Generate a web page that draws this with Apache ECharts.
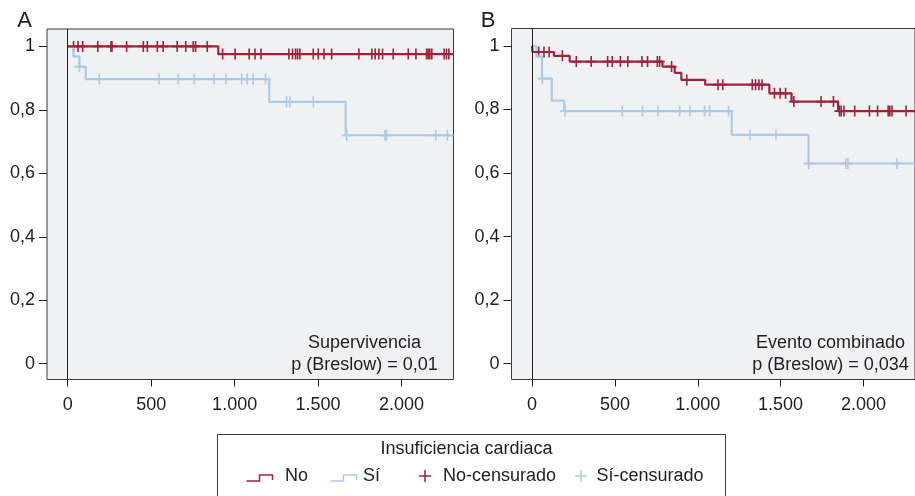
<!DOCTYPE html>
<html><head><meta charset="utf-8">
<script src="https://cdn.jsdelivr.net/npm/echarts@6/dist/echarts.min.js"></script>
<style>html,body{margin:0;padding:0;background:#fff}#c{width:915px;height:496px}</style>
</head><body><div id="c"></div>
<script>
// ---- data ----
const xTicks = [0, 500, 1000, 1500, 2000];
const yTicks = [0, 0.2, 0.4, 0.6, 0.8, 1];
const XMIN = -124, XMAX = 2311;

// Panel A: Supervivencia
const aNoTimes = [0, 902];
const aNoSurv = [1, 0.976];
const aNoCens = [35, 62, 90, 180, 259, 265, 353, 453, 477, 537, 572, 656, 707, 752, 766, 836, 928, 1003, 1087, 1122, 1158, 1325, 1347, 1365, 1377, 1391, 1471, 1501, 1535, 1581, 1744, 1822, 1842, 1864, 1886, 1950, 2040, 2086, 2150, 2159, 2169, 2181, 2255, 2269, 2283];
const aSiTimes = [0, 34, 70, 108, 1207, 1665];
const aSiSurv = [1, 0.969, 0.936, 0.897, 0.825, 0.720];
const aSiCens = [70, 189, 547, 662, 758, 876, 948, 1042, 1075, 1111, 1185, 1311, 1331, 1471, 1671, 1900, 1910, 2205, 2275];

// Panel B: Evento combinado
const bNoTimes = [0, 3, 132, 227, 787, 861, 901, 1045, 1432, 1566, 1847];
const bNoSurv = [1, 0.981, 0.969, 0.951, 0.935, 0.915, 0.893, 0.878, 0.851, 0.825, 0.795];
const bNoCens = [40, 72, 103, 183, 267, 357, 456, 484, 533, 578, 663, 697, 756, 770, 842, 934, 1122, 1151, 1329, 1349, 1369, 1388, 1463, 1497, 1530, 1580, 1744, 1819, 1855, 1865, 1882, 1947, 2036, 2085, 2149, 2159, 2172, 2257];
const bSiTimes = [0, 26, 60, 119, 194, 1205, 1669];
const bSiSurv = [1, 0.967, 0.897, 0.828, 0.795, 0.720, 0.630];
const bSiCens = [62, 199, 545, 667, 760, 891, 954, 1041, 1072, 1186, 1315, 1472, 1669, 1894, 1906, 2202];

const groupLabels = ['No', 'Sí', 'No-censurado', 'Sí-censurado'];
const legendTitle = 'Insuficiencia cardiaca';
const panelA = ['A', 'Supervivencia', 'p (Breslow) = 0,01'];
const panelB = ['B', 'Evento combinado', 'p (Breslow) = 0,034'];

// ---- styling ----
const RED = '#a2213a', BLUE = '#a9cbeb', INK = '#1f1d1e';
const FONT = '"Liberation Sans", Arial, Helvetica, sans-serif';
const PLUS = 'path://M4.2,0H5.8V10H4.2ZM0,4.2H10V5.8H0Z';

function survAt(ts, ss, t) { let v = ss[0]; for (let i = 0; i < ts.length; i++) if (ts[i] <= t) v = ss[i]; return v; }
function stepData(ts, ss) { const d = ts.map((t, i) => [t, ss[i]]); d.push([XMAX, ss[ss.length - 1]]); return d; }
function censData(ts, ss, cs) { return cs.map(c => [c, survAt(ts, ss, c)]); }
function fmtX(v) { return v >= 1000 ? Math.floor(v / 1000) + '.' + String(v % 1000).padStart(3, '0') : String(v); }
function fmtY(v) { return String(Math.round(v * 10) / 10).replace('.', ','); }

function xAxis(gi) {
  return { type: 'value', gridIndex: gi, min: XMIN, max: XMAX, position: 'bottom',
    axisLine: { show: false, onZero: false }, splitLine: { show: false },
    axisTick: { show: true, inside: false, length: 7, lineStyle: { color: INK, width: 1 }, customValues: xTicks },
    axisLabel: { customValues: xTicks, formatter: fmtX, color: INK, fontSize: 18, fontFamily: FONT, margin: 17 } };
}
function yAxis(gi) {
  return { type: 'value', gridIndex: gi, min: -0.05, max: 1.055, position: 'left',
    axisLine: { show: false, onZero: false }, splitLine: { show: false },
    axisTick: { show: true, inside: false, length: 8, lineStyle: { color: INK, width: 1 }, customValues: yTicks },
    axisLabel: { customValues: yTicks, formatter: fmtY, color: INK, fontSize: 18, fontFamily: FONT, margin: 12 } };
}
function lineSeries(gi, ts, ss, color, withZero) {
  const s = { type: 'line', xAxisIndex: gi, yAxisIndex: gi, step: 'end', data: stepData(ts, ss),
    showSymbol: false, lineStyle: { color: color, width: 2.2 }, itemStyle: { color: color }, silent: true };
  if (withZero) s.markLine = { silent: true, symbol: 'none', label: { show: false },
    lineStyle: { color: INK, width: 1, type: 'solid' }, data: [{ xAxis: 0 }] };
  return s;
}
function censSeries(gi, ts, ss, cs, color, size) {
  return { type: 'scatter', xAxisIndex: gi, yAxisIndex: gi, data: censData(ts, ss, cs),
    symbol: PLUS, symbolSize: size, itemStyle: { color: color, opacity: 1 }, silent: true };
}

const chart = echarts.init(document.getElementById('c'), null, { renderer: 'canvas' });
const txt = (x, y, s, size, align) => ({ type: 'text', x: x, y: y,
  style: { text: s, fill: INK, font: size + 'px ' + FONT, textAlign: align || 'center', textVerticalAlign: 'middle' } });
const stepIcon = (x, color) => ({ type: 'polyline', shape: { points: [[x, 481], [x + 13, 481], [x + 13, 475], [x + 26, 475], [x + 26, 480]] },
  style: { stroke: color, lineWidth: 1.5, fill: null } });
const plusIcon = (x, color) => ({ type: 'group', children: [
  { type: 'line', shape: { x1: x - 6, y1: 476, x2: x + 6, y2: 476 }, style: { stroke: color, lineWidth: 1.5 } },
  { type: 'line', shape: { x1: x, y1: 470, x2: x, y2: 482 }, style: { stroke: color, lineWidth: 1.5 } }] });

chart.setOption({
  animation: false,
  backgroundColor: '#ffffff',
  grid: [
    { left: 47, top: 29, width: 406.5, height: 350.5, show: true, backgroundColor: '#f0f1f3', borderColor: '#3b3b3b', borderWidth: 1 },
    { left: 511.5, top: 28.5, width: 411, height: 351, show: true, backgroundColor: '#f0f1f3', borderColor: '#3b3b3b', borderWidth: 1 }
  ],
  xAxis: [xAxis(0), xAxis(1)],
  yAxis: [yAxis(0), yAxis(1)],
  series: [
    lineSeries(0, aSiTimes, aSiSurv, BLUE, true),
    lineSeries(0, aNoTimes, aNoSurv, RED, false),
    censSeries(0, aSiTimes, aSiSurv, aSiCens, BLUE, [10, 11]),
    censSeries(0, aNoTimes, aNoSurv, aNoCens, RED, [10, 11]),
    lineSeries(1, bSiTimes, bSiSurv, BLUE, true),
    lineSeries(1, bNoTimes, bNoSurv, RED, false),
    censSeries(1, bSiTimes, bSiSurv, bSiCens, BLUE, [10, 11]),
    censSeries(1, bNoTimes, bNoSurv, bNoCens, RED, [10, 11])
  ],
  graphic: [
    txt(24.5, 21, panelA[0], 22),
    txt(488, 21, panelB[0], 22),
    txt(364.5, 343.5, panelA[1], 18),
    txt(364.5, 365.5, panelA[2], 18),
    txt(830.5, 343.5, panelB[1], 18),
    txt(830.5, 365.5, panelB[2], 18),
    { type: 'rect', shape: { x: 217.5, y: 434.5, width: 508, height: 80 }, style: { fill: '#fff', stroke: '#3b3b3b', lineWidth: 1 } },
    txt(466.5, 449, legendTitle, 18),
    stepIcon(246.5, RED),
    txt(285, 476, groupLabels[0], 18, 'left'),
    stepIcon(330.5, BLUE),
    txt(363, 476, groupLabels[1], 18, 'left'),
    plusIcon(425, RED),
    txt(443, 476, groupLabels[2], 18, 'left'),
    plusIcon(581, BLUE),
    txt(596.5, 476, groupLabels[3], 18, 'left')
  ]
});
</script></body></html>
